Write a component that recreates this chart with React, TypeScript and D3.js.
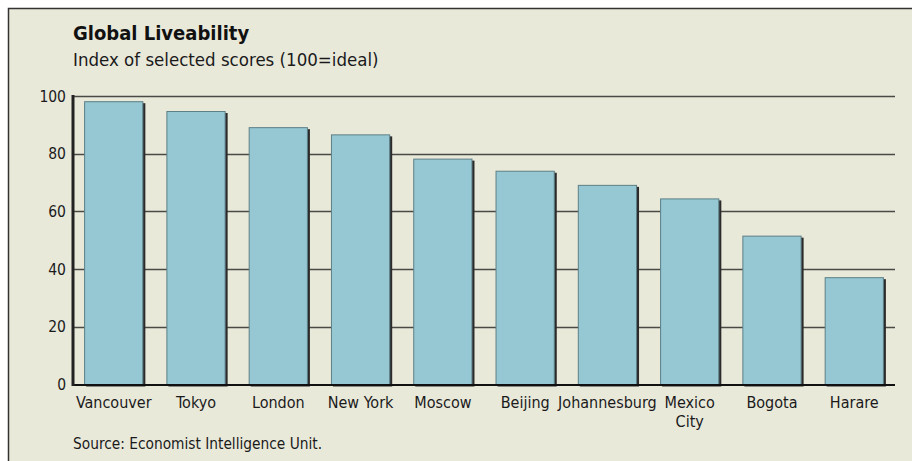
import { useEffect, useRef } from 'react';
import * as d3 from 'd3';

const cities = ['Vancouver', 'Tokyo', 'London', 'New York', 'Moscow', 'Beijing', 'Johannesburg', 'Mexico City', 'Bogota', 'Harare'];
const scores = [98.2, 94.8, 89.2, 86.7, 78.3, 74.1, 69.2, 64.5, 51.6, 37.2];
const yTicks = [0, 20, 40, 60, 80, 100];

export default function App() {
  const ref = useRef<SVGSVGElement | null>(null);

  useEffect(() => {
    const el = ref.current;
    if (!el) return;
    const svg = d3.select(el);
    svg.selectAll('*').remove();

    const W = 912, H = 461;
    const font = '"DejaVu Sans Condensed", "DejaVu Sans", sans-serif';

    svg.append('rect').attr('width', W).attr('height', H).attr('fill', '#ffffff');
    svg.append('rect').attr('x', 8).attr('y', 8).attr('width', W - 8).attr('height', H - 8).attr('fill', '#e9e9da');
    // top + left frame
    svg.append('path').attr('d', `M8.5,${H} V8.5 H${W}`).attr('fill', 'none').attr('stroke', '#333').attr('stroke-width', 1.5);

    const x = d3.scaleBand<string>()
      .domain(cities)
      .range([73, 895])
      .paddingInner(0.28)
      .paddingOuter(0.135);

    const y = d3.scaleLinear().domain([0, 100]).range([384.5, 96]);

    const g = svg.append('g');

    // gridlines
    g.selectAll('line.grid')
      .data(yTicks.filter(t => t > 0))
      .join('line')
      .attr('x1', 73).attr('x2', 895)
      .attr('y1', d => Math.round(y(d)) + 0.5).attr('y2', d => Math.round(y(d)) + 0.5)
      .attr('stroke', '#4a4a44').attr('stroke-width', 1.3);

    // tick labels
    g.selectAll('text.tick')
      .data(yTicks)
      .join('text')
      .attr('x', 66).attr('y', d => y(d) + 5.5)
      .attr('text-anchor', 'end')
      .attr('font-family', font).attr('font-size', 15.5).attr('fill', '#1a1a1a')
      .text(d => d);

    const data = cities.map((c, i) => ({ c, v: scores[i] }));

    // shadows
    g.selectAll('rect.shadow')
      .data(data)
      .join('rect')
      .attr('x', d => (x(d.c) as number) + 2)
      .attr('y', d => y(d.v) + 2)
      .attr('width', x.bandwidth())
      .attr('height', d => y(0) - y(d.v))
      .attr('fill', '#2b2b2b');

    // bars
    g.selectAll('rect.bar')
      .data(data)
      .join('rect')
      .attr('x', d => (x(d.c) as number) + 0.5)
      .attr('y', d => y(d.v) + 0.5)
      .attr('width', x.bandwidth() - 1)
      .attr('height', d => y(0) - y(d.v) - 0.5)
      .attr('fill', '#95c8d3')
      .attr('stroke', '#5d7f86').attr('stroke-width', 1);

    // axes
    g.append('line').attr('x1', 73).attr('x2', 895).attr('y1', y(0) + 0.5).attr('y2', y(0) + 0.5)
      .attr('stroke', '#111').attr('stroke-width', 2);
    g.append('line').attr('x1', 73).attr('x2', 73).attr('y1', y(100) - 1).attr('y2', y(0) + 1.5)
      .attr('stroke', '#222').attr('stroke-width', 3);

    // category labels
    const labels = g.selectAll('text.cat')
      .data(cities)
      .join('text')
      .attr('x', d => (x(d) as number) + x.bandwidth() / 2)
      .attr('y', 408)
      .attr('text-anchor', 'middle')
      .attr('font-family', font).attr('font-size', 16).attr('fill', '#1a1a1a');
    labels.each(function (d) {
      const t = d3.select(this);
      const parts = d === 'Mexico City' ? ['Mexico', 'City'] : [d];
      parts.forEach((p, i) => {
        t.append('tspan')
          .attr('x', (x(d) as number) + x.bandwidth() / 2)
          .attr('dy', i === 0 ? 0 : 19)
          .text(p);
      });
    });

    // titles
    svg.append('text').attr('x', 73).attr('y', 40)
      .attr('font-family', font).attr('font-size', 20).attr('font-weight', 'bold').attr('fill', '#111')
      .text('Global Liveability');
    svg.append('text').attr('x', 73).attr('y', 66)
      .attr('font-family', font).attr('font-size', 18.5).attr('fill', '#1a1a1a')
      .text('Index of selected scores (100=ideal)');
    svg.append('text').attr('x', 73).attr('y', 449)
      .attr('font-family', font).attr('font-size', 15.3).attr('fill', '#1a1a1a')
      .text('Source: Economist Intelligence Unit.');
  }, []);

  return (
    <svg
      ref={ref}
      width={912}
      height={461}
      style={{ position: 'absolute', left: 0, top: 0, display: 'block' }}
    />
  );
}
